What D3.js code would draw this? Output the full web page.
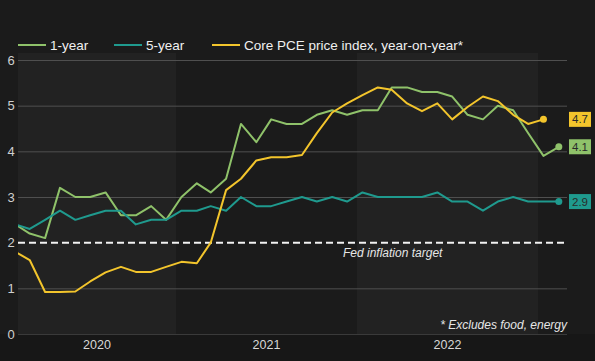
<!DOCTYPE html>
<html>
<head>
<meta charset="utf-8">
<title>Inflation expectations</title>
<script src="https://cdn.jsdelivr.net/npm/d3@7"></script>
<style>
	body { margin: 0; background: #1b1b1b; }
	svg { display: block; font-family: "Liberation Sans", Arial, sans-serif; }
</style>
</head>
<body>
<div class="chart"></div>
<script>
// monthly readings, Feb 2020 onwards
var oneYear = [2.4, 2.2, 2.1, 3.2, 3.0, 3.0, 3.1, 2.6, 2.6, 2.8, 2.5,
	3.0, 3.3, 3.1, 3.4, 4.6, 4.2, 4.7, 4.6, 4.6, 4.8, 4.9, 4.8,
	4.9, 4.9, 5.4, 5.4, 5.3, 5.3, 5.2, 4.8, 4.7, 5.0, 4.9, 4.4,
	3.9, 4.1];
var fiveYear = [2.4, 2.3, 2.5, 2.7, 2.5, 2.6, 2.7, 2.7, 2.4, 2.5, 2.5,
	2.7, 2.7, 2.8, 2.7, 3.0, 2.8, 2.8, 2.9, 3.0, 2.9, 3.0, 2.9,
	3.1, 3.0, 3.0, 3.0, 3.0, 3.1, 2.9, 2.9, 2.7, 2.9, 3.0, 2.9,
	2.9, 2.9];
var corePce = [1.8, 1.62, 0.92, 0.92, 0.93, 1.15, 1.35, 1.47, 1.36, 1.36, 1.47,
	1.58, 1.55, 2.0, 3.15, 3.4, 3.8, 3.87, 3.87, 3.92, 4.4, 4.85, 5.05,
	5.23, 5.4, 5.35, 5.05, 4.88, 5.05, 4.7, 4.97, 5.2, 5.1, 4.8, 4.6,
	4.7];
var yearLabels = [2020, 2021, 2022, 2023];
var yTicks = [0, 1, 2, 3, 4, 5, 6];
var fedTarget = 2;

var series = [
	{ name: "1-year", values: oneYear, color: "#8fc26a" },
	{ name: "5-year", values: fiveYear, color: "#1f9a8e" },
	{ name: "Core PCE price index, year-on-year*", values: corePce, color: "#f3c52c" }
];

var width = 595, height = 361;
var plotLeft = 18, plotRight = 567, plotTop = 60, plotBottom = 334;

function monthDate(i) { return new Date(Date.UTC(2020, 1 + i, 12)); }

var x = d3.scaleUtc()
	.domain([new Date(Date.UTC(2021, 0, 1)), new Date(Date.UTC(2023, 0, 1))])
	.range([176, 538]);
var y = d3.scaleLinear().domain([0, 6]).range([plotBottom, plotTop]);

var svg = d3.select(".chart").append("svg")
	.attr("width", width)
	.attr("height", height);

svg.append("rect").attr("width", width).attr("height", height).attr("fill", "#1b1b1b");
svg.append("rect").attr("x", 0).attr("y", plotBottom).attr("width", width).attr("height", height - plotBottom).attr("fill", "#171717");

// year bands
yearLabels.forEach(function(yr, i) {
	var x0 = Math.max(plotLeft, x(new Date(Date.UTC(yr, 0, 1))));
	var x1 = Math.min(plotRight, x(new Date(Date.UTC(yr + 1, 0, 1))));
	if (x1 <= x0) return;
	svg.append("rect")
		.attr("x", x0).attr("y", 53)
		.attr("width", x1 - x0).attr("height", plotBottom - 53)
		.attr("fill", i % 2 === 0 ? "#222222" : "#1b1b1b");
	if (x1 - x0 > 60) {
		svg.append("text")
			.attr("x", (x0 + x1) / 2).attr("y", 349)
			.attr("text-anchor", "middle")
			.attr("fill", "#d8d8d8")
			.style("font-size", "12.5px")
			.text(yr);
	}
});

// grid + y labels
svg.append("g").selectAll("line").data(yTicks).enter().append("line")
	.attr("x1", plotLeft).attr("x2", plotRight)
	.attr("y1", function(d) { return y(d) + 0.5; })
	.attr("y2", function(d) { return y(d) + 0.5; })
	.attr("stroke", function(d) { return d === 0 ? "#3a3a3a" : "#4f4f4f"; })
	.attr("stroke-width", 1)
	.style("display", function(d) { return d === fedTarget ? "none" : null; });

svg.append("g").selectAll("text").data(yTicks).enter().append("text")
	.attr("x", 11).attr("y", function(d) { return y(d) + 4.5; })
	.attr("text-anchor", "middle")
	.attr("fill", "#d0d0d0")
	.style("font-size", "13px")
	.text(function(d) { return d; });

// fed target
svg.append("line")
	.attr("x1", plotLeft).attr("x2", plotRight)
	.attr("y1", y(fedTarget)).attr("y2", y(fedTarget))
	.attr("stroke", "#f2f2f2").attr("stroke-width", 2)
	.attr("stroke-dasharray", "7,4");
svg.append("text")
	.attr("x", 343).attr("y", y(fedTarget) + 14)
	.attr("fill", "#e6e6e6")
	.style("font-size", "12px").style("font-style", "italic")
	.text("Fed inflation target");

svg.append("text")
	.attr("x", plotRight).attr("y", 329)
	.attr("text-anchor", "end")
	.attr("fill", "#e6e6e6")
	.style("font-size", "12px").style("font-style", "italic")
	.text("* Excludes food, energy");

// lines
svg.append("clipPath").attr("id", "plot-clip")
	.append("rect").attr("x", plotLeft).attr("y", 0).attr("width", plotRight - plotLeft).attr("height", height);

var line = d3.line()
	.x(function(d, i) { return x(monthDate(i)); })
	.y(function(d) { return y(d); });

var plot = svg.append("g").attr("clip-path", "url(#plot-clip)");
series.forEach(function(s) {
	plot.append("path")
		.datum(s.values)
		.attr("fill", "none")
		.attr("stroke", s.color)
		.attr("stroke-width", 2)
		.attr("stroke-linejoin", "round")
		.attr("d", line);
});

// end dots + value boxes
series.forEach(function(s) {
	var n = s.values.length - 1, v = s.values[n];
	svg.append("circle")
		.attr("cx", x(monthDate(n))).attr("cy", y(v)).attr("r", 3.5)
		.attr("fill", s.color);
	svg.append("rect")
		.attr("x", 569).attr("y", y(v) - 7.5)
		.attr("width", 22).attr("height", 15)
		.attr("fill", s.color);
	svg.append("text")
		.attr("x", 580).attr("y", y(v) + 4)
		.attr("text-anchor", "middle")
		.attr("fill", "#2a2a2a")
		.style("font-size", "11.5px")
		.text(v.toFixed(1));
});

// legend
var legendX = [18, 114, 212];
series.forEach(function(s, i) {
	var g = svg.append("g").attr("transform", "translate(" + legendX[i] + ",45)");
	g.append("line").attr("x1", 0).attr("x2", 28).attr("stroke", s.color).attr("stroke-width", 2);
	g.append("text").attr("x", 32).attr("y", 5)
		.attr("fill", "#f0f0f0")
		.style("font-size", "13.5px")
		.text(s.name);
});
</script>
</body>
</html>
